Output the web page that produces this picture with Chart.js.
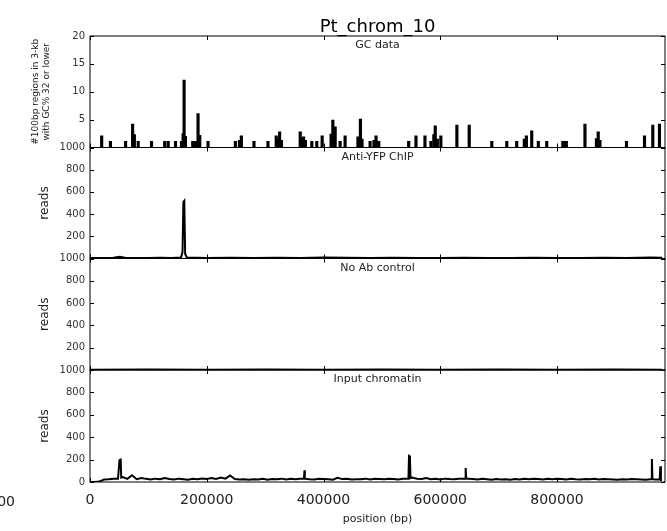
<!DOCTYPE html>
<html>
<head>
<meta charset="utf-8">
<script src="https://cdn.jsdelivr.net/npm/chart.js@4.4.1/dist/chart.umd.min.js"></script>
<style>
body { margin: 0; background: #fff; }
#wrap { position: relative; width: 667px; height: 531px; }
#wrap canvas { position: absolute; left: 0; top: 0; }
</style>
</head>
<body>
<div id="wrap">
  <canvas id="gc" width="667" height="531"></canvas>
  <canvas id="chip" width="667" height="531"></canvas>
  <canvas id="noab" width="667" height="531"></canvas>
  <canvas id="input" width="667" height="531"></canvas>
</div>
<script>
// GC data: number of 100bp regions (GC% <= 32) per 3-kb window
var gcPos = [20000, 35000, 61000, 73000, 76000, 82600, 105400, 128000, 134000, 146500,
  156700, 159500, 161200, 163500, 176000, 181000, 185100, 188000, 202200, 249000,
  256000, 259300, 280900, 304800, 319000, 322000, 324800, 328000, 360100, 363000,
  365800, 369000, 380000, 388500, 397700, 413000, 416000, 420000, 428500, 437000,
  459000, 463200, 466000, 479800, 486500, 490000, 494600, 545900, 558400, 573800,
  584000, 589000, 591400, 595000, 601000, 628500, 649600, 688300, 714000, 731000,
  744000, 747500, 756700, 768000, 782400, 810000, 813000, 816000, 847900, 867500,
  870600, 873500, 919000, 949900, 964100, 975500];
var gcVal = [2.1, 1.1, 1.1, 4.2, 2.3, 1.1, 1.1, 1.1, 1.1, 1.1,
  1.1, 2.5, 12.1, 2.0, 1.1, 1.1, 6.1, 2.2, 1.1, 1.1,
  1.3, 2.1, 1.1, 1.1, 2.1, 1.5, 2.8, 1.3, 2.8, 1.6,
  1.9, 1.3, 1.1, 1.1, 2.1, 2.4, 4.9, 3.7, 1.1, 2.1,
  1.9, 5.1, 1.5, 1.1, 1.3, 2.1, 1.1, 1.1, 2.1, 2.1,
  1.1, 2.3, 3.9, 1.5, 2.1, 4.0, 4.0, 1.1, 1.1, 1.1,
  1.5, 2.1, 3.0, 1.1, 1.1, 1.1, 1.1, 1.1, 4.2, 1.6,
  2.8, 1.3, 1.1, 2.1, 4.0, 4.2];

// Anti-YFP ChIP reads
var chipPos = [0, 20000, 40000, 51000, 60000, 80000, 100000, 120000, 140000, 156000,
  158500, 160000, 161500, 163000, 166000, 200000, 240000, 280000, 320000, 360000,
  400000, 440000, 480000, 520000, 560000, 600000, 640000, 680000, 720000, 760000,
  800000, 840000, 880000, 920000, 960000, 980000];
var chipVal = [4, 5, 6, 15, 6, 5, 5, 6, 5, 8,
  60, 510, 520, 40, 8, 5, 6, 5, 6, 5,
  9, 6, 5, 6, 5, 5, 6, 5, 5, 6,
  5, 5, 6, 5, 9, 6];

// No Ab control reads
var noabPos = [0, 100000, 200000, 300000, 400000, 500000, 600000, 700000, 800000, 900000, 980000];
var noabVal = [3, 4, 3, 4, 3, 4, 3, 4, 3, 4, 3];

// Input chromatin reads, background in 8-kb bins starting at 0
var inputBin = 8000;
var inputVal = [0, 0, 4, 22, 25, 30, 30, 45, 28, 60,
  25, 35, 28, 22, 30, 24, 35, 26, 22, 30,
  25, 20, 28, 24, 32, 26, 35, 28, 40, 30,
  58, 26, 22, 25, 20, 24, 22, 28, 20, 26,
  24, 30, 22, 28, 25, 30, 30, 24, 22, 28,
  26, 24, 20, 38, 26, 28, 22, 25, 24, 30,
  22, 28, 26, 24, 30, 26, 22, 28, 30, 40,
  30, 26, 35, 24, 28, 22, 30, 26, 24, 28,
  30, 30, 26, 22, 28, 24, 20, 26, 22, 24,
  20, 26, 22, 28, 24, 30, 26, 22, 28, 24,
  30, 26, 22, 28, 24, 22, 26, 24, 28, 22,
  26, 24, 22, 20, 24, 22, 26, 24, 22, 20,
  25, 22, 25];
// Input chromatin narrow peaks
var inputPeakPos = [49500, 50500, 52500, 53500, 366500, 367500, 368500,
  545500, 546500, 548000, 549000, 642500, 643500, 644500,
  961500, 962500, 963500, 976000, 977000, 978000];
var inputPeakVal = [30, 195, 200, 40, 30, 105, 30,
  30, 235, 230, 35, 30, 125, 30,
  25, 205, 25, 25, 140, 10];

var xTicks = [0, 200000, 400000, 600000, 800000];
var xMax = 985000;

var W = 667, H = 531;
var plotLeft = 90, plotRight = 665;
var panelTop = [36, 147.5, 258.5, 370];
var panelBottom = [147.5, 258.5, 370, 482];
var FONT = '"DejaVu Sans", "Liberation Sans", sans-serif';

function pairs(xs, ys) {
  return xs.map(function (x, i) { return { x: x, y: ys[i] }; });
}

var inputData = inputVal.map(function (v, i) { return { x: i * inputBin, y: v }; })
  .concat(pairs(inputPeakPos, inputPeakVal))
  .sort(function (a, b) { return a.x - b.x; });

var framePlugin = {
  id: 'frame',
  afterDraw: function (chart, args, o) {
    var ctx = chart.ctx, a = chart.chartArea;
    var xs = chart.scales.x, ys = chart.scales.y;
    ctx.save();
    ctx.strokeStyle = '#000';
    ctx.lineWidth = 1;
    ctx.strokeRect(a.left, a.top, a.right - a.left, a.bottom - a.top);
    ctx.beginPath();
    xTicks.forEach(function (t) {
      var px = Math.round(xs.getPixelForValue(t)) + 0.5;
      ctx.moveTo(px, a.top); ctx.lineTo(px, a.top + 4);
      ctx.moveTo(px, a.bottom); ctx.lineTo(px, a.bottom - 4);
    });
    ys.ticks.forEach(function (t) {
      var py = Math.round(ys.getPixelForValue(t.value)) + 0.5;
      ctx.moveTo(a.left, py); ctx.lineTo(a.left + 4, py);
      ctx.moveTo(a.right, py); ctx.lineTo(a.right - 4, py);
    });
    ctx.stroke();

    var cx = (a.left + a.right) / 2;
    ctx.fillStyle = '#222';
    ctx.textAlign = 'center';
    ctx.textBaseline = 'alphabetic';
    ctx.font = '11px ' + FONT;
    ctx.fillText(o.label, cx, a.top + 12);

    if (o.title) {
      ctx.font = '18px ' + FONT;
      ctx.fillStyle = '#000';
      ctx.fillText(o.title, cx, 32);
    }
    if (o.xlabel) {
      ctx.font = '11px ' + FONT;
      ctx.fillStyle = '#222';
      ctx.fillText(o.xlabel, cx, 522);
      ctx.font = '14px ' + FONT;
      ctx.textAlign = 'right';
      ctx.fillText('-200000', 15, 506);
    }

    // y axis label (rotated)
    var cy = (a.top + a.bottom) / 2;
    ctx.fillStyle = '#222';
    ctx.textAlign = 'center';
    ctx.textBaseline = 'middle';
    o.ylabel.forEach(function (line, i) {
      ctx.save();
      ctx.translate(o.ylabelX[i], cy);
      ctx.rotate(-Math.PI / 2);
      ctx.font = o.ylabelSize + 'px ' + FONT;
      ctx.fillText(line, 0, 0);
      ctx.restore();
    });
    ctx.restore();
  }
};

function makePanel(id, idx, type, dataset, yMax, yStep, showZero, showX, frameOpts) {
  var xHeight = showX ? H - panelBottom[idx] : 0;
  return new Chart(document.getElementById(id), {
    type: type,
    data: { datasets: [dataset] },
    plugins: [framePlugin],
    options: {
      responsive: false,
      animation: false,
      devicePixelRatio: 1,
      layout: { padding: { top: panelTop[idx], bottom: H - panelBottom[idx] - xHeight, left: 0, right: W - plotRight } },
      plugins: { legend: { display: false }, tooltip: { enabled: false }, frame: frameOpts },
      scales: {
        x: {
          type: 'linear', min: 0, max: xMax, offset: false,
          grid: { display: false, drawTicks: false, offset: false },
          border: { display: false },
          afterBuildTicks: function (s) {
            s.ticks = xTicks.map(function (v) { return { value: v }; });
          },
          ticks: {
            display: showX, padding: 10,
            maxRotation: 0, autoSkip: false, color: '#222',
            font: { family: FONT, size: 14 },
            callback: function (v) { return String(v); }
          },
          afterFit: function (s) { s.height = xHeight; s.paddingRight = 0; s.paddingLeft = 0; }
        },
        y: {
          min: 0, max: yMax,
          grid: { display: false, drawTicks: false },
          border: { display: false },
          ticks: {
            stepSize: yStep, padding: 5, color: '#333',
            font: { family: FONT, size: 10 },
            callback: function (v) { return (v === 0 && !showZero) ? '' : String(v); }
          },
          afterFit: function (s) { s.width = plotLeft; }
        }
      }
    }
  });
}

makePanel('gc', 0, 'bar', {
  data: pairs(gcPos, gcVal),
  backgroundColor: '#000',
  borderWidth: 0,
  barThickness: 2.5
}, 20, 5, false, false, {
  label: 'GC data', title: 'Pt_chrom_10',
  ylabel: ['#100bp regions in 3-kb', 'with GC% 32 or lower'], ylabelX: [36, 47], ylabelSize: 9
});

makePanel('chip', 1, 'line', {
  data: pairs(chipPos, chipVal),
  borderColor: '#000', borderWidth: 2, pointRadius: 0, fill: false
}, 1000, 200, false, false, {
  label: 'Anti-YFP ChIP', ylabel: ['reads'], ylabelX: [45], ylabelSize: 12
});

makePanel('noab', 2, 'line', {
  data: pairs(noabPos, noabVal),
  borderColor: '#000', borderWidth: 2, pointRadius: 0, fill: false
}, 1000, 200, false, false, {
  label: 'No Ab control', ylabel: ['reads'], ylabelX: [45], ylabelSize: 12
});

makePanel('input', 3, 'line', {
  data: inputData,
  borderColor: '#000', borderWidth: 2, pointRadius: 0, fill: false
}, 1000, 200, true, true, {
  label: 'Input chromatin', xlabel: 'position (bp)',
  ylabel: ['reads'], ylabelX: [45], ylabelSize: 12
});
</script>
</body>
</html>
